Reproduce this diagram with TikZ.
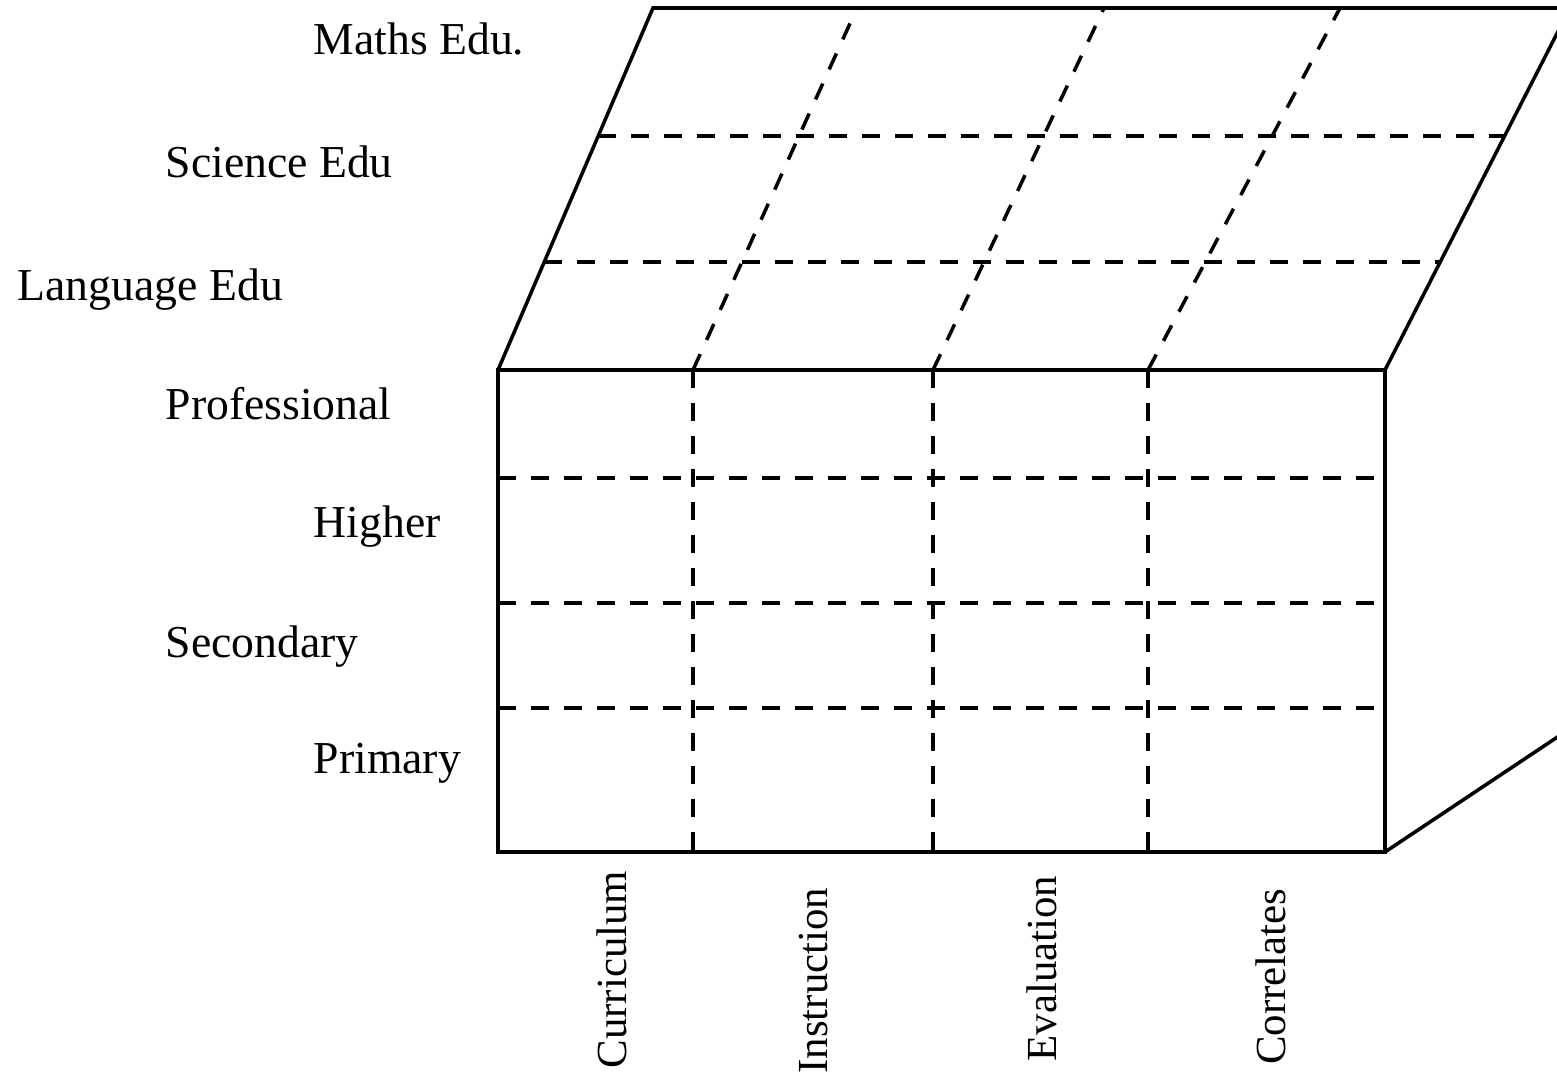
\documentclass[tikz,border=0pt]{standalone}
\usepackage{fontspec}
\setmainfont{Liberation Serif}
\usetikzlibrary{calc}
\tikzset{
	boxline/.style={line width=1pt},
	griddash/.style={line width=1pt, dash pattern=on 1.75mm off 1.55mm},
	rowlabel/.style={anchor=base west, inner sep=0pt, font=\fontsize{13}{16}\selectfont},
	collabel/.style={anchor=base east, rotate=90, inner sep=0pt, font=\fontsize{12.2}{14}\selectfont}
}
\begin{document}
\begin{tikzpicture}[x=0.1mm, y=-0.1mm]
	  \useasboundingbox (0,0) rectangle (1557,1078);
	  \clip (0,0) rectangle (1557,1078);

	  \coordinate (fl) at (498,370);
	  \coordinate (fr) at (1385,370);
	  \coordinate (br) at (1385,852);
	  \coordinate (bl) at (498,852);
	  \coordinate (tl) at (653,8);
	  \coordinate (tr) at (1570,8);
	  \coordinate (sd) at (1580,722);

	  \draw [boxline] (fl)--(fr)--(br)--(bl)--cycle;
	  \draw [boxline] (fl)--(tl)--(tr);
	  \draw [boxline] (fr)--(tr);
	  \draw [boxline] (br)--(sd);

	  \draw [griddash] (bl|-0,478)--(br|-0,478);
	  \draw [griddash] (bl|-0,603)--(br|-0,603);
	  \draw [griddash] (bl|-0,708)--(br|-0,708);
	  \draw [griddash] (693,370)--(693,852);
	  \draw [griddash] (933,370)--(933,852);
	  \draw [griddash] (1148,370)--(1148,852);

	  \draw [griddash] ($(fl)!0.646!(tl)$)--($(fr)!0.646!(tr)$);
	  \draw [griddash] ($(fl)!0.298!(tl)$)--($(fr)!0.298!(tr)$);
	  \draw [griddash] (693,370)--(857,8);
	  \draw [griddash] (933,370)--(1104,8);
	  \draw [griddash] (1148,370)--(1340,8);

	  \node [rowlabel] (maths) at (313,54) {Maths Edu.};
	  \node [rowlabel] (science) at (165,177) {Science Edu};
	  \node [rowlabel] (language) at (17,300) {Language Edu};
	  \node [rowlabel] (professional) at (165,419) {Professional};
	  \node [rowlabel] (higher) at (313,537) {Higher};
	  \node [rowlabel] (secondary) at (165,657) {Secondary};
	  \node [rowlabel] (primary) at (313,773) {Primary};

	  \node [collabel] (curriculum) at (626,870) {Curriculum};
	  \node [collabel] (instruction) at (827,887) {Instruction};
	  \node [collabel] (evaluation) at (1056,875) {Evaluation};
	  \node [collabel] (correlates) at (1285,888) {Correlates};
\end{tikzpicture}
\end{document}
